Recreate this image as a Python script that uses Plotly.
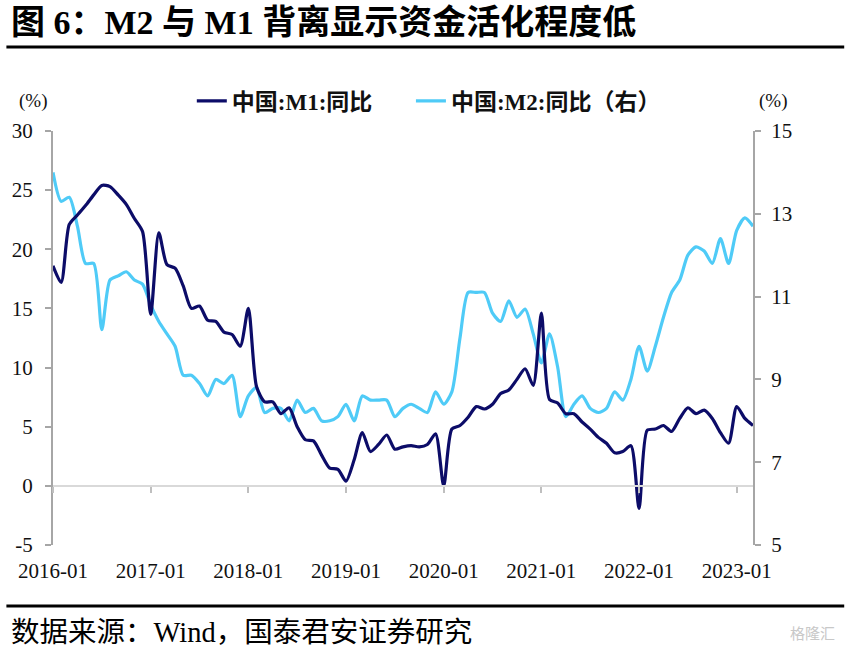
import plotly.graph_objects as go

months = [f"{y}-{m:02d}" for y in range(2016, 2024) for m in range(1, 13)][:87]

m1_yoy = [
    18.6, 17.2, 22.1, 22.9, 23.7, 24.6, 25.4, 25.3, 24.6, 23.8, 22.6, 21.5,
    14.5, 21.4, 18.7, 18.4, 16.9, 15.0, 15.2, 14.0, 13.9, 13.0, 12.8, 11.8,
    15.0, 8.4, 7.1, 7.1, 6.1, 6.6, 5.0, 3.9, 3.8, 2.6, 1.5, 1.4,
    0.4, 2.2, 4.5, 2.9, 3.5, 4.3, 3.1, 3.3, 3.4, 3.3, 3.5, 4.4,
    0.0, 4.8, 5.1, 5.8, 6.7, 6.5, 6.9, 7.8, 8.1, 9.0, 9.9, 8.5,
    14.6, 7.3, 7.0, 6.1, 6.1, 5.4, 4.8, 4.1, 3.6, 2.8, 2.9, 3.4,
    -1.9, 4.7, 4.8, 5.1, 4.6, 5.7, 6.6, 6.1, 6.4, 5.7, 4.5, 3.6,
    6.7, 5.7, 5.1,
]

m2_yoy = [
    14.0, 13.3, 13.4, 12.7, 11.8, 11.8, 10.2, 11.4, 11.5, 11.6, 11.4, 11.3,
    10.8, 10.4, 10.1, 9.8, 9.1, 9.1, 8.9, 8.6, 9.0, 8.9, 9.1, 8.1,
    8.6, 8.8, 8.2, 8.3, 8.3, 8.0, 8.5, 8.2, 8.3, 8.0, 8.0, 8.1,
    8.4, 8.0, 8.6, 8.5, 8.5, 8.5, 8.1, 8.3, 8.4, 8.3, 8.2, 8.7,
    8.4, 8.7, 10.0, 11.1, 11.1, 11.1, 10.6, 10.4, 10.9, 10.5, 10.7, 10.1,
    9.4, 10.1, 9.3, 8.1, 8.4, 8.6, 8.3, 8.2, 8.3, 8.7, 8.5, 9.0,
    9.8, 9.2, 9.8, 10.5, 11.1, 11.4, 12.0, 12.2, 12.1, 11.8, 12.4, 11.8,
    12.6, 12.9, 12.7,
]

year_ticks = [f"{y}-01" for y in range(2016, 2024)]
left_ticks = [-5, 0, 5, 10, 15, 20, 25, 30]
left_tick_text = ["-5", "0", "5", "10", "15", "20", "25", "30"]
right_ticks = [5, 7, 9, 11, 13, 15]

title_text = "图 6：M2 与 M1 背离显示资金活化程度低"
source_text = "数据来源：Wind，国泰君安证券研究"

SERIF = "Liberation Serif, Times New Roman, Noto Sans CJK SC, serif"
AXIS_GRAY = "#A6A6A6"
NAVY = "#0C0C68"
SKY = "#4FCBF7"

fig = go.Figure()

# M2 on right axis (main y), drawn first
fig.add_trace(go.Scatter(
    x=months, y=m2_yoy, name="中国:M2:同比（右）", mode="lines",
    line=dict(color=SKY, width=3.2, shape="spline", smoothing=0.7),
    xaxis="x", yaxis="y", legend="legend2",
))
# M1 on left axis (overlay), drawn on top
fig.add_trace(go.Scatter(
    x=months, y=m1_yoy, name="中国:M1:同比", mode="lines",
    line=dict(color=NAVY, width=3.2, shape="spline", smoothing=0.7),
    xaxis="x", yaxis="y2", legend="legend",
))

def px_x(p):
    return (p - 47) / 706

def px_y(p):
    return (545 - p) / 414

legend_font = dict(family=SERIF, size=23, color="#111111", weight="bold")

fig.update_layout(
    width=845, height=649,
    margin=dict(l=47, r=92, t=131, b=104),
    paper_bgcolor="white", plot_bgcolor="white",
    font=dict(family=SERIF, size=21, color="#111111"),
    showlegend=True,
    legend=dict(
        orientation="h", x=px_x(187), xanchor="left", y=px_y(101), yanchor="middle",
        font=legend_font, bgcolor="rgba(0,0,0,0)",
    ),
    legend2=dict(
        orientation="h", x=px_x(408), xanchor="left", y=px_y(101), yanchor="middle",
        font=legend_font, bgcolor="rgba(0,0,0,0)",
    ),
    xaxis=dict(
        type="category", range=[0, len(months) - 1],
        anchor="free", position=5 / 35,
        showline=True, linecolor="#D9D9D9", linewidth=2,
        ticks="outside", ticklen=6, tickcolor="#BFBFBF", tickwidth=2,
        tickmode="array", tickvals=year_ticks, ticktext=year_ticks,
        ticklabelstandoff=60,
        tickfont=dict(family=SERIF, size=21, color="#111111"),
        showgrid=False, zeroline=False,
    ),
    yaxis=dict(
        side="right", range=[5, 15],
        tickmode="array", tickvals=right_ticks,
        showline=True, linecolor=AXIS_GRAY, linewidth=2,
        ticks="outside", ticklen=6, tickcolor=AXIS_GRAY, tickwidth=2,
        ticklabelstandoff=6,
        tickfont=dict(family=SERIF, size=21, color="#111111"),
        showgrid=False, zeroline=False,
    ),
    yaxis2=dict(
        side="left", overlaying="y", range=[-5, 30],
        tickmode="array", tickvals=left_ticks, ticktext=left_tick_text,
        showline=True, linecolor=AXIS_GRAY, linewidth=2,
        ticks="outside", ticklen=6, tickcolor=AXIS_GRAY, tickwidth=2,
        ticklabelstandoff=8,
        tickfont=dict(family=SERIF, size=21, color="#111111"),
        showgrid=False, zeroline=False,
    ),
)

annotations = [
    dict(text=f"<b>{title_text}</b>", x=px_x(3), y=px_y(23), xref="paper", yref="paper",
         xanchor="left", yanchor="middle", showarrow=False,
         font=dict(family=SERIF, size=34, color="#000000")),
    dict(text=source_text, x=px_x(3), y=px_y(632), xref="paper", yref="paper",
         xanchor="left", yanchor="middle", showarrow=False,
         font=dict(family=SERIF, size=28.5, color="#000000")),
    dict(text="(%)", x=px_x(27), y=px_y(101), xref="paper", yref="paper",
         xanchor="center", yanchor="middle", showarrow=False,
         font=dict(family=SERIF, size=19, color="#111111")),
    dict(text="(%)", x=px_x(773), y=px_y(101), xref="paper", yref="paper",
         xanchor="center", yanchor="middle", showarrow=False,
         font=dict(family=SERIF, size=19, color="#111111")),
    dict(text="格隆汇", x=px_x(838), y=px_y(632), xref="paper", yref="paper",
         xanchor="right", yanchor="middle", showarrow=False,
         font=dict(family="Noto Sans CJK SC", size=15, color="#C8C8C8")),
]
fig.update_layout(annotations=annotations)

shapes = [
    dict(type="line", xref="paper", yref="paper", x0=px_x(0), x1=px_x(845),
         y0=px_y(47), y1=px_y(47), line=dict(color="#000000", width=3)),
    dict(type="line", xref="paper", yref="paper", x0=px_x(0), x1=px_x(845),
         y0=px_y(606), y1=px_y(606), line=dict(color="#000000", width=3)),
]
fig.update_layout(shapes=shapes)

fig.write_html(
    "out.html",
    config={"displayModeBar": False},
    post_script="document.body.style.margin='0';document.body.style.overflow='hidden';",
)
